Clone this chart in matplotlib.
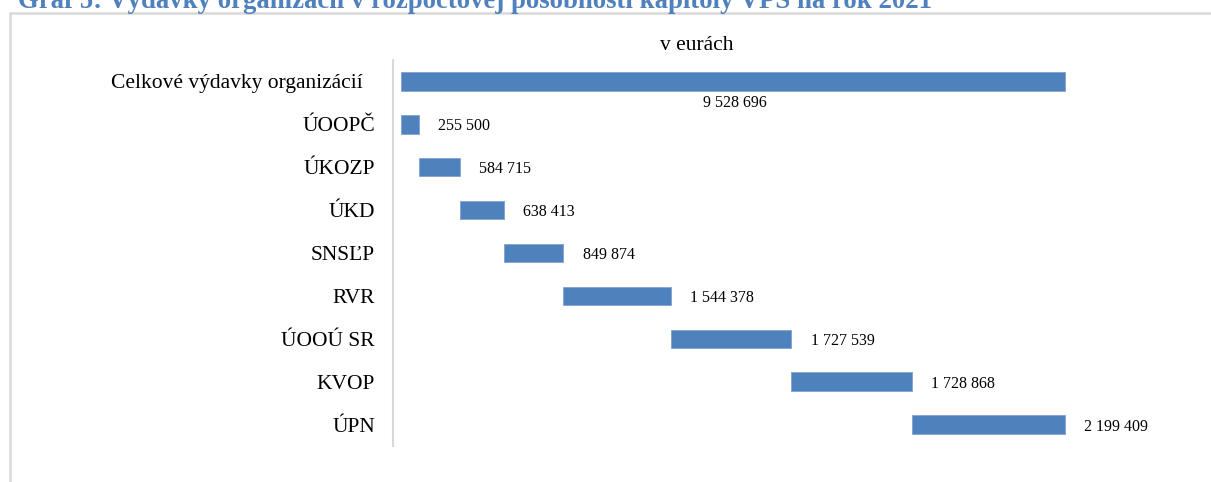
import matplotlib
matplotlib.use("Agg")
import matplotlib.pyplot as plt
from matplotlib.patches import Rectangle
from matplotlib.transforms import ScaledTranslation

categories = ["Celkové výdavky organizácií", "ÚOOPČ", "ÚKOZP", "ÚKD", "SNSĽP",
              "RVR", "ÚOOÚ SR", "KVOP", "ÚPN"]
parts = [255500, 584715, 638413, 849874, 1544378, 1727539, 1728868, 2199409]
total = 9528696
value_labels = ["9 528 696", "255 500", "584 715", "638 413", "849 874",
                "1 544 378", "1 727 539", "1 728 868", "2 199 409"]

W, H = 1211, 482
fig = plt.figure(figsize=(W / 100, H / 100), dpi=100)
plt.rcParams['font.family'] = ['Liberation Serif', 'DejaVu Serif']

# frame of the chart area (partially cut)
fig.patches.append(Rectangle((10 / W, -0.1), 1.2, (1 - 13 / H) + 0.1,
                             transform=fig.transFigure, fill=False,
                             edgecolor='#D9D9D9', linewidth=1.8))

fig.text(18 / W, 1 - 8 / H,
         "Graf 5: Výdavky organizácií v rozpočtovej pôsobnosti kapitoly VPS na rok 2021",
         color='#4F81BD', fontsize=19.3, fontweight='bold', va='baseline', ha='left')

ax_left, ax_right = 393, 1190
ax_top, ax_bottom = 60, 446
ax = fig.add_axes([ax_left / W, 1 - ax_bottom / H, (ax_right - ax_left) / W,
                   (ax_bottom - ax_top) / H])

zero_px, total_px = 401, 1065
scale = (total_px - zero_px) / total
ax.set_xlim(-(zero_px - ax_left) / scale, (ax_right - zero_px) / scale)
ax.set_ylim(len(categories) - 0.5, -0.5)

color = '#4F81BD'
bh = 0.43
ax.barh(0, total, left=0, height=bh, color=color, edgecolor='#7FA3D0', linewidth=0.6)
lefts = []
acc = 0
for v in parts:
    lefts.append(acc)
    acc += v
ys = list(range(1, len(categories)))
ax.barh(ys, parts, left=lefts, height=bh, color=color, edgecolor='#7FA3D0', linewidth=0.6)

# labels
ax.annotate(value_labels[0], xy=(total / 2, 0), xytext=(1.5, -9.5), textcoords='offset points',
            ha='center', va='top', fontsize=11.5)
for y, l, v, lab in zip(ys, lefts, parts, value_labels[1:]):
    ax.annotate(lab, xy=(l + v, y), xytext=(14, 0), textcoords='offset points',
                ha='left', va='center_baseline', fontsize=11.5)

ax.set_yticks(range(len(categories)))
ax.set_yticklabels(categories, fontsize=15.5)
ax.tick_params(axis='y', length=0, pad=13)
tl = ax.get_yticklabels()[0]
tl.set_transform(tl.get_transform() + ScaledTranslation(-12 / 100, 0, fig.dpi_scale_trans))
ax.set_xticks([])
for s in ['top', 'right', 'bottom']:
    ax.spines[s].set_visible(False)
ax.spines['left'].set_color('#D9D9D9')
ax.spines['left'].set_linewidth(1.5)

fig.text(697 / W, 1 - 45 / H, "v eurách", ha='center', va='center', fontsize=15.5)

fig.savefig("out.png", dpi=100)
